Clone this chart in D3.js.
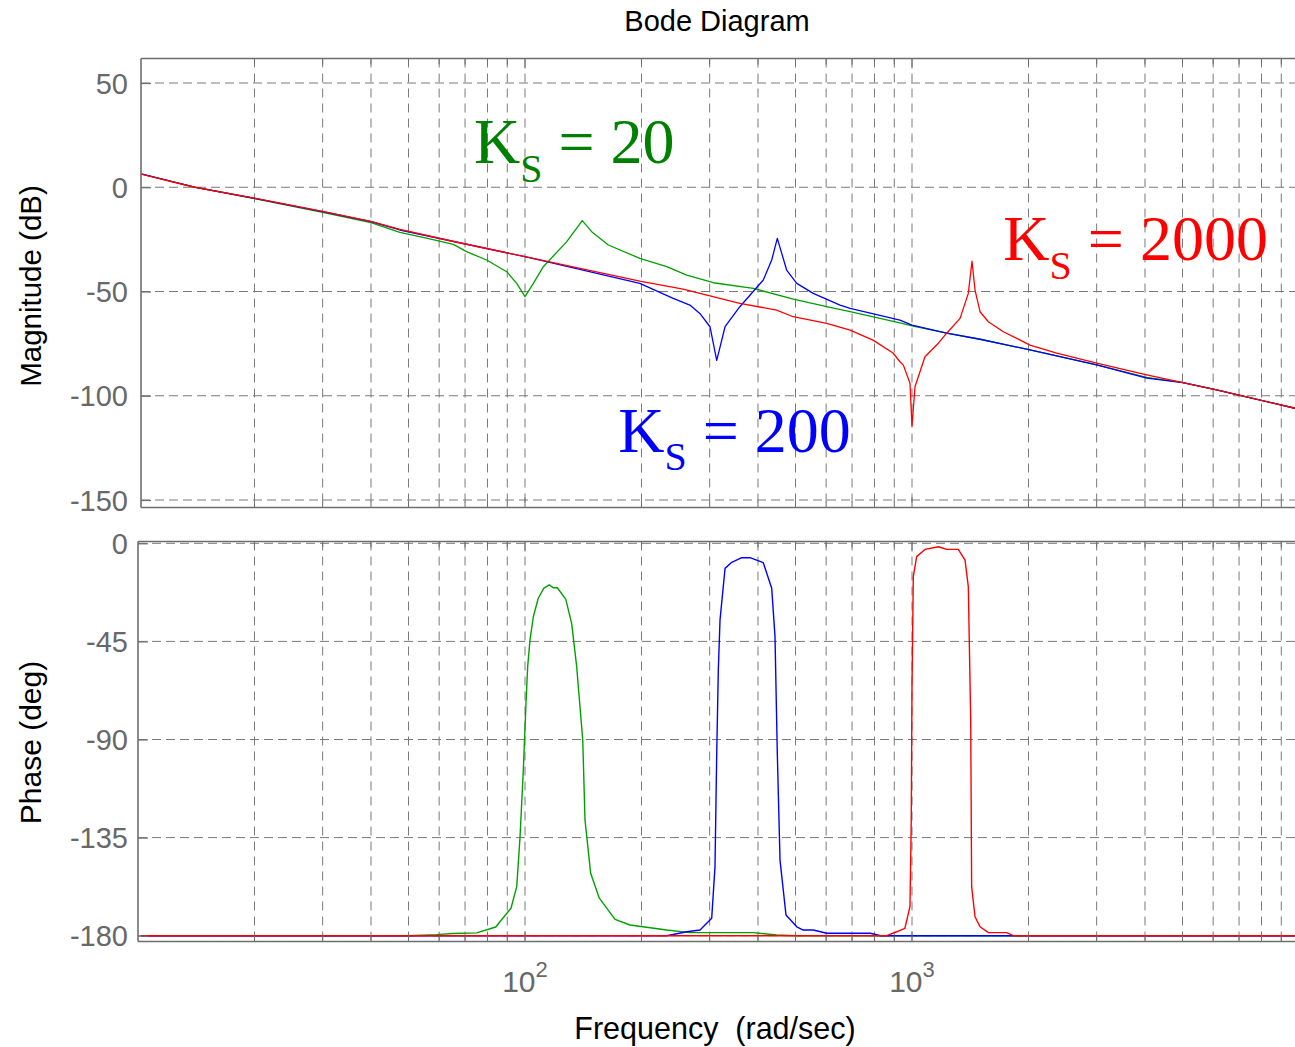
<!DOCTYPE html>
<html><head><meta charset="utf-8">
<script src="https://cdn.jsdelivr.net/npm/d3@7"></script>
<style>
html,body{margin:0;padding:0;background:#fff;}
svg{display:block;}
</style></head><body>
<svg id="chart" width="1295" height="1047"></svg>
<script>
// ---------- data ----------
const magTicks = [50, 0, -50, -100, -150];
const phaseTicks = [0, -45, -90, -135, -180];
const xTickExponents = [2, 3];

// magnitude [rad/s, dB]
const magGreen = [[10.18,6.4],[14,0.1],[20,-5.4],[30,-12.0],[40,-17.0],[47.5,-21.6],[56,-24.5],[65.3,-27.4],[70.6,-30.9],[79.6,-34.9],[89.7,-40.5],[95.2,-46.1],[100,-52.5],[105.1,-46.1],[111.5,-38.1],[128.2,-26.1],[140.6,-16.0],[148.7,-21.3],[164.2,-27.7],[198,-34.1],[232.4,-38.1],[261.8,-42.1],[306.7,-45.8],[389,-48.5],[493.6,-53.7],[602,-57.3],[692,-59.7],[931,-65.0],[1000,-66.5],[1229,-70.0],[1499,-72.9],[2018,-78.0],[3001,-85.2],[4042,-91.2],[5012,-93.7],[6124,-97.2],[9766,-106]];
const magBlue = [[10.18,6.4],[14,0.1],[20,-5.3],[30,-11.7],[40,-16.5],[47.5,-20.5],[100,-33.3],[198,-46.1],[241.5,-53.3],[266.7,-56.5],[283,-60.5],[300.6,-66.9],[312.9,-83.0],[328.8,-66.9],[359,-57.3],[412.8,-44.5],[434,-34.9],[448.7,-24.5],[474.3,-39.7],[503.7,-46.1],[555.6,-50.9],[651.8,-56.5],[692,-58.1],[931,-63.7],[1000,-66.1],[1229,-70.0],[1499,-72.9],[2018,-78.0],[3001,-85.2],[4042,-91.5],[5012,-93.7],[6124,-97.2],[9766,-106]];
const magRed = [[10.18,6.3],[14,0],[20,-5.2],[30,-11.6],[40,-16.4],[47.5,-20.2],[65,-25.9],[100,-33.3],[198,-45.0],[256,-48.9],[359,-55.7],[447,-58.9],[493,-62.1],[602,-65.3],[692,-68.5],[793,-73.3],[893,-79.5],[931,-83.7],[950,-85.3],[988,-94.0],[1000,-114.5],[1018,-95.7],[1080,-81.3],[1170,-74.8],[1229,-70.0],[1331,-62.9],[1398,-50.9],[1429,-35.5],[1455,-49.3],[1499,-59.7],[1575,-64.5],[1722,-69.3],[2018,-75.7],[2366,-79.6],[3001,-84.4],[4042,-90.0],[5012,-93.7],[6124,-97.2],[9766,-106]];

// phase [rad/s, deg]
const phGreen = [[10.18,-180],[50,-180],[59,-179.5],[65,-179],[75,-178.7],[84,-176],[92,-167.4],[95.2,-157.5],[97.1,-134.6],[99,-104],[100.6,-73.4],[101.6,-56.6],[103,-44.4],[105.1,-33.7],[108.2,-25.2],[111.9,-20.6],[115.6,-19.1],[118.3,-20.4],[121.2,-20.4],[127.4,-25.6],[132,-36.7],[136,-56.6],[141,-90.2],[142.9,-126.9],[147.8,-151.4],[155.6,-162.8],[170.9,-172.5],[186.8,-175.1],[232.4,-177.4],[266.7,-178.6],[389,-178.6],[447,-179.7],[500,-180],[9766,-180]];
const phBlue = [[10.18,-180],[232.4,-180],[261.8,-178.2],[283.3,-177.4],[303.7,-172],[309.7,-148.3],[312.9,-96.3],[315.9,-58.1],[319.1,-35.2],[328.8,-11.5],[342.1,-8.7],[363.1,-6.6],[381.4,-6.6],[412.8,-8.9],[434,-20.6],[442.6,-42.8],[448.7,-96.3],[456,-145.3],[472.5,-170.5],[503.7,-175.9],[523.7,-177.4],[555.6,-177.4],[602,-178.9],[780,-178.9],[830,-180],[9766,-180]];
const phRed = [[10.18,-180],[860,-180],[913,-178.2],[958.4,-176.6],[988,-166.7],[995.6,-126.9],[1000,-65.8],[1007.8,-15.3],[1028.2,-6.1],[1080,-2.8],[1170,-1.6],[1229,-2.8],[1317,-2.8],[1371,-7.7],[1398,-19.9],[1418,-81.1],[1426,-157.5],[1455,-171.3],[1499,-175.9],[1575,-178.6],[1757,-178.6],[1827,-180],[9766,-180]];

// annotation labels: K_S values anchored in data coords (freq, dB)
const annLabels = ["20", "200", "2000"];
const annFreq = [73.8, 174.2, 1722];
const annDb = [11.5, -126.8, -34.9];

// ---------- drawing ----------
const W = 1295, H = 1047;
const svg = d3.select("#chart");
const SANS = "'Liberation Sans', Arial, Helvetica, sans-serif";
const SERIF = "'Liberation Serif', 'Times New Roman', Times, serif";
const AXC = "#6e6e6e", TXC = "#686868", GRC = "#7a7a7a";
const colors = {green: "#00a000", blue: "#0000ff", red: "#ff0000"};
const textColors = ["#008000", "#0000ff", "#ff0000"];

const x = d3.scaleLog().domain([10, 10000]).range([138, 1299]);
const yMag = d3.scaleLinear().domain([-150, 50]).range([500, 83]);
const yPh = d3.scaleLinear().domain([-180, 0]).range([935.7, 543.3]);

const panels = [
  {id: "mag", top: 58.5, bottom: 507.5, left: 141, y: yMag, ticks: magTicks, pad: 13,
   series: [[magGreen, colors.green], [magBlue, colors.blue], [magRed, colors.red]]},
  {id: "ph", top: 541.5, bottom: 941.5, left: 138, y: yPh, ticks: phaseTicks, pad: 10,
   series: [[phGreen, colors.green], [phBlue, colors.blue], [phRed, colors.red]]}
];

const defs = svg.append("defs");
const xGrid = x.ticks().filter(t => x(t) > 141.5 && x(t) < W);

panels.forEach(p => {
  defs.append("clipPath").attr("id", "clip-" + p.id)
    .append("rect").attr("x", p.left).attr("y", p.top)
    .attr("width", W - p.left).attr("height", p.bottom - p.top);

  const g = svg.append("g");
  // vertical grid
  g.selectAll(".vg").data(xGrid).join("line")
    .attr("x1", d => x(d)).attr("x2", d => x(d))
    .attr("y1", p.top).attr("y2", p.bottom)
    .attr("stroke", GRC).attr("stroke-width", 1).attr("stroke-dasharray", "9,6");
  // horizontal grid
  g.selectAll(".hg").data(p.ticks).join("line")
    .attr("x1", p.left).attr("x2", W)
    .attr("y1", d => p.y(d)).attr("y2", d => p.y(d))
    .attr("stroke", GRC).attr("stroke-width", 1).attr("stroke-dasharray", "9,5");

  // series
  const line = d3.line().x(d => x(d[0])).y(d => p.y(d[1]));
  const lg = g.append("g").attr("clip-path", "url(#clip-" + p.id + ")");
  p.series.forEach(([data, c]) => {
    lg.append("path").datum(data).attr("d", line)
      .attr("fill", "none").attr("stroke", c).attr("stroke-width", p.id === "ph" ? 1.4 : 1.3)
      .attr("stroke-linejoin", "round");
  });

  // borders
  g.append("line").attr("x1", p.left).attr("x2", W).attr("y1", p.top).attr("y2", p.top)
    .attr("stroke", AXC).attr("stroke-width", 1.6);
  g.append("line").attr("x1", p.left).attr("x2", W).attr("y1", p.bottom).attr("y2", p.bottom)
    .attr("stroke", AXC).attr("stroke-width", 1.6);
  g.append("line").attr("x1", p.left).attr("x2", p.left).attr("y1", p.top).attr("y2", p.bottom)
    .attr("stroke", AXC).attr("stroke-width", 1.6);

  // x ticks on top/bottom borders (inward)
  g.selectAll(".xtb").data(xGrid).join("line")
    .attr("x1", d => x(d)).attr("x2", d => x(d))
    .attr("y1", p.bottom).attr("y2", d => p.bottom - (Math.abs(Math.log10(d) % 1) < 1e-9 ? 10 : 6))
    .attr("stroke", AXC).attr("stroke-width", 1);
  g.selectAll(".xtt").data(xGrid).join("line")
    .attr("x1", d => x(d)).attr("x2", d => x(d))
    .attr("y1", p.top).attr("y2", d => p.top + (Math.abs(Math.log10(d) % 1) < 1e-9 ? 10 : 6))
    .attr("stroke", AXC).attr("stroke-width", 1);

  // y axis
  const ax = d3.axisLeft(p.y).tickValues(p.ticks).tickFormat(d => String(d))
    .tickSizeInner(-10).tickSizeOuter(0).tickPadding(p.pad);
  const ag = svg.append("g").attr("transform", `translate(${p.left},0)`).call(ax);
  ag.select(".domain").remove();
  ag.selectAll(".tick line").attr("stroke", AXC).attr("stroke-width", 1.2);
  ag.selectAll(".tick text").attr("fill", TXC).attr("font-size", 29)
    .attr("font-family", SANS).attr("dy", "0.35em");
});

// x tick labels (10^n) under the phase panel
const xl = svg.append("g");
xTickExponents.forEach(e => {
  const t = xl.append("text").attr("x", x(Math.pow(10, e))).attr("y", 991.5)
    .attr("text-anchor", "middle").attr("fill", TXC)
    .attr("font-family", SANS).attr("font-size", 30);
  t.append("tspan").text("10");
  t.append("tspan").attr("dy", -15).attr("font-size", 22).text(String(e));
});

// titles
svg.append("text").attr("x", 717).attr("y", 31).attr("text-anchor", "middle")
  .attr("font-family", SANS).attr("font-size", 29).attr("fill", "#000").text("Bode Diagram");
svg.append("text").attr("x", 715).attr("y", 1039).attr("text-anchor", "middle")
  .attr("font-family", SANS).attr("font-size", 30.5).attr("fill", "#000")
  .style("white-space", "pre").text("Frequency  (rad/sec)");
svg.append("text").attr("transform", "translate(41,286) rotate(-90)").attr("text-anchor", "middle")
  .attr("font-family", SANS).attr("font-size", 29.5).attr("fill", "#000").text("Magnitude (dB)");
svg.append("text").attr("transform", "translate(41,742.5) rotate(-90)").attr("text-anchor", "middle")
  .attr("font-family", SANS).attr("font-size", 30).attr("fill", "#000").text("Phase (deg)");

// annotations K_S = ...
annLabels.forEach((lab, i) => {
  const t = svg.append("text").attr("x", x(annFreq[i])).attr("y", yMag(annDb[i]))
    .attr("font-family", SERIF).attr("font-size", 64).attr("fill", textColors[i])
    .style("white-space", "pre");
  t.append("tspan").text("K");
  t.append("tspan").attr("dy", 18.5).attr("font-size", 40).text("S");
  t.append("tspan").attr("dy", -18.5).text(" = " + lab);
});
</script>
</body></html>
